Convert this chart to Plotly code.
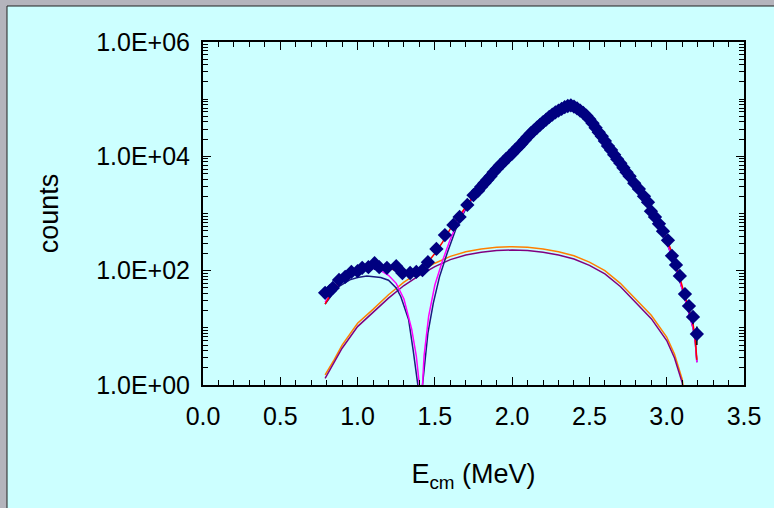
import numpy as np
import plotly.graph_objects as go

# ---- measured data (E_cm in MeV, counts) ----
data_x = [0.79, 0.82, 0.84, 0.88, 0.92, 0.96, 1.00, 1.03, 1.07, 1.11, 1.14, 1.19, 1.25, 1.29,
          1.34, 1.38, 1.42, 1.455, 1.51, 1.565, 1.62, 1.66, 1.71, 1.75,
          1.78, 1.80, 1.82, 1.84, 1.86, 1.88, 1.90, 1.92, 1.94, 1.96, 1.98, 2.00, 2.02, 2.04,
          2.06, 2.08, 2.10, 2.12, 2.14, 2.16, 2.18, 2.20, 2.22, 2.24, 2.26, 2.28, 2.30, 2.32,
          2.34, 2.36, 2.38, 2.40, 2.42, 2.44, 2.46, 2.48, 2.50, 2.52, 2.54, 2.56, 2.58, 2.60,
          2.62, 2.64, 2.66, 2.68, 2.70, 2.72, 2.74, 2.76, 2.79,
          2.820, 2.853, 2.879, 2.898, 2.924, 2.950, 2.976, 3.008, 3.034, 3.060, 3.085,
          3.118, 3.144, 3.170, 3.195]
data_y = [41, 44, 50, 69, 78, 95, 98, 112, 115, 135, 115, 112, 120, 91,
          91, 95, 102, 141, 240, 420, 630, 870, 1410, 2090,
          2510, 2950, 3390, 3890, 4470, 5250, 6030, 6920, 7760, 8910, 10000, 11200, 12900, 14500,
          16600, 19100, 21900, 25100, 28200, 31600, 35500, 39800, 43700, 49000, 53700, 58900, 63100, 67600,
          72400, 75900, 77600, 74100, 69200, 63100, 57500, 51300, 44700, 38000, 31600, 26300, 22400, 18600,
          15100, 12900, 10700, 8910, 7590, 6310, 5250, 4470, 3390,
          2690, 2000, 1580, 1100, 870, 660, 490, 340, 182, 126, 81,
          39, 24, 15.5, 7.8]

# ---- total fit (red) ----
red_x = [0.79, 0.85, 0.90, 0.95, 1.00, 1.05, 1.10, 1.15, 1.20, 1.25, 1.30, 1.35, 1.40, 1.45,
         1.50, 1.55, 1.60, 1.65, 1.70, 1.75, 1.80, 1.90, 2.00, 2.10, 2.20, 2.30, 2.38, 2.45,
         2.50, 2.60, 2.70, 2.80, 2.90, 3.00, 3.05, 3.10, 3.15, 3.17, 3.185, 3.195]
red_y = [26, 50, 71, 89, 105, 120, 126, 123, 112, 100, 93, 93, 105, 135,
         200, 316, 540, 850, 1320, 2040, 2950, 6030, 11200, 21900, 39800, 63100, 77600, 60300,
         44700, 18600, 7590, 3160, 1175, 363, 158, 56, 18, 12, 6.2, 2.75]

# ---- resonant component, fit A (magenta) ----
mag_x = [0.79, 0.85, 0.90, 0.95, 1.00, 1.05, 1.10, 1.15, 1.20, 1.25, 1.30, 1.35, 1.38, 1.40,
         1.41, 1.42, 1.43, 1.46, 1.50, 1.55, 1.60, 1.65, 1.70, 1.75, 1.80, 1.90, 2.00, 2.10,
         2.20, 2.30, 2.38, 2.45, 2.50, 2.60, 2.70, 2.80, 2.90, 3.00, 3.05, 3.10, 3.15, 3.17,
         3.185, 3.195]
mag_y = [28, 48, 66, 83, 98, 107, 110, 100, 83, 60, 32, 9.5, 3.2, 1.0,
         0.3, 1.0, 3.2, 16, 56, 150, 355, 720, 1260, 2000, 2880, 5890, 11200, 21900,
         39800, 63100, 77600, 60300, 44700, 18600, 7410, 3020, 1070, 316, 132, 48, 16, 10, 5.6, 2.5]

# ---- resonant component, fit B (navy) ----
nav_x = [0.79, 0.87, 0.95, 1.00, 1.06, 1.10, 1.15, 1.20, 1.25, 1.28, 1.33, 1.36, 1.39, 1.40,
         1.42, 1.455, 1.49, 1.53, 1.58, 1.64, 1.70, 1.75, 1.80, 1.90, 2.00, 2.10, 2.20, 2.30,
         2.38, 2.45, 2.50, 2.60, 2.70, 2.80, 2.90, 3.00, 3.05, 3.10, 3.15, 3.17, 3.185, 3.195]
nav_y = [26, 51, 69, 76, 81, 79, 76, 68, 50, 35, 14, 4, 1.0, 0.3,
         1.0, 8.1, 27, 78, 204, 575, 1200, 1950, 2880, 5890, 11200, 21900, 39800, 63100,
         77600, 60300, 44700, 18600, 7410, 3020, 1070, 316, 132, 48, 16, 10, 5.6, 2.5]

# ---- broad components (orange, purple) ----
brd_x = [0.79, 0.85, 0.90, 1.00, 1.10, 1.20, 1.30, 1.40, 1.50, 1.60, 1.70, 1.80, 1.90, 2.00,
         2.10, 2.20, 2.30, 2.40, 2.50, 2.60, 2.70, 2.80, 2.90, 3.00, 3.05, 3.10, 3.12]
org_y = [1.5, 2.8, 5.0, 12, 21, 38, 63, 95, 135, 178, 214, 240, 257, 263,
         257, 240, 214, 182, 141, 100, 60, 32, 16.6, 6.9, 3.5, 1.26, 0.5]
pur_y = [1.3, 2.5, 4.4, 10.5, 18.5, 33, 55, 83, 118, 156, 188, 210, 225, 230,
         225, 210, 188, 160, 124, 88, 53, 28, 14.5, 6.0, 3.0, 1.1, 0.45]

x_ticks = [0.0, 0.5, 1.0, 1.5, 2.0, 2.5, 3.0, 3.5]
x_ticklabels = ["0.0", "0.5", "1.0", "1.5", "2.0", "2.5", "3.0", "3.5"]
y_ticks = [1, 1e2, 1e4, 1e6]
y_ticklabels = ["1.0E+00", "1.0E+02", "1.0E+04", "1.0E+06"]

# ---- figure ----
fig = go.Figure()
fig.add_trace(go.Scatter(x=brd_x, y=org_y, mode="lines", line=dict(color="#FF8000", width=1.5)))
fig.add_trace(go.Scatter(x=brd_x, y=pur_y, mode="lines", line=dict(color="#800080", width=1.5)))
fig.add_trace(go.Scatter(x=nav_x, y=nav_y, mode="lines", line=dict(color="#1A1A80", width=1.5)))
fig.add_trace(go.Scatter(x=mag_x, y=mag_y, mode="lines", line=dict(color="#FF00FF", width=1.5)))
fig.add_trace(go.Scatter(x=red_x, y=red_y, mode="lines", line=dict(color="#FF0000", width=1.5)))
fig.add_trace(go.Scatter(
    x=data_x, y=data_y, mode="markers",
    marker=dict(symbol="diamond", size=11, color="#000080", line=dict(width=0)),
    error_y=dict(type="data", array=list(np.sqrt(data_y)), visible=True,
                 color="black", thickness=1.5, width=0),
))

minor_y = [m * 10 ** k for k in range(0, 6) for m in range(2, 11) if m * 10 ** k not in y_ticks]
minor_x = [round(0.1 * i, 1) for i in range(0, 36) if round(0.1 * i, 1) not in x_ticks]

FONT = "Liberation Sans, Arial, sans-serif"
fig.update_layout(
    width=774, height=508,
    margin=dict(l=203, r=30, t=42, b=123),
    paper_bgcolor="#B4B4BC",
    plot_bgcolor="#CCFFFF",
    showlegend=False,
    font=dict(family=FONT, size=24, color="black"),
    shapes=[dict(type="rect", xref="paper", yref="paper", layer="below",
                 x0=(7 - 203) / 541, x1=(790 - 203) / 541,
                 y0=(385 - 530) / 343, y1=(385 - 6) / 343,
                 fillcolor="#CCFFFF", line=dict(color="#202020", width=1))],
)
fig.update_xaxes(
    range=[0, 3.5], tickmode="array", tickvals=x_ticks, ticktext=x_ticklabels,
    ticks="inside", ticklen=8, tickwidth=1, tickcolor="black", ticklabelstandoff=8,
    showline=True, linecolor="black", linewidth=2, mirror="ticks",
    showgrid=False, zeroline=False,
    minor=dict(tickmode="array", tickvals=minor_x, ticks="inside", ticklen=5,
               tickcolor="black", tickwidth=1, showgrid=False),
    title=dict(text="E<sub>cm</sub> (MeV)", standoff=35, font=dict(family=FONT, size=27)),
    tickfont=dict(family=FONT, size=25),
)
fig.update_yaxes(
    type="log", range=[0, 6], tickmode="array", tickvals=y_ticks, ticktext=y_ticklabels,
    ticks="inside", ticklen=8, tickwidth=1, tickcolor="black", ticklabelstandoff=6,
    showline=True, linecolor="black", linewidth=2, mirror="ticks",
    showgrid=False, zeroline=False,
    minor=dict(tickmode="array", tickvals=minor_y, ticks="inside", ticklen=5,
               tickcolor="black", tickwidth=1, showgrid=False),
    title=dict(text="counts", standoff=30, font=dict(family=FONT, size=27)),
    tickfont=dict(family=FONT, size=25),
)

fig.write_html("out.html")
